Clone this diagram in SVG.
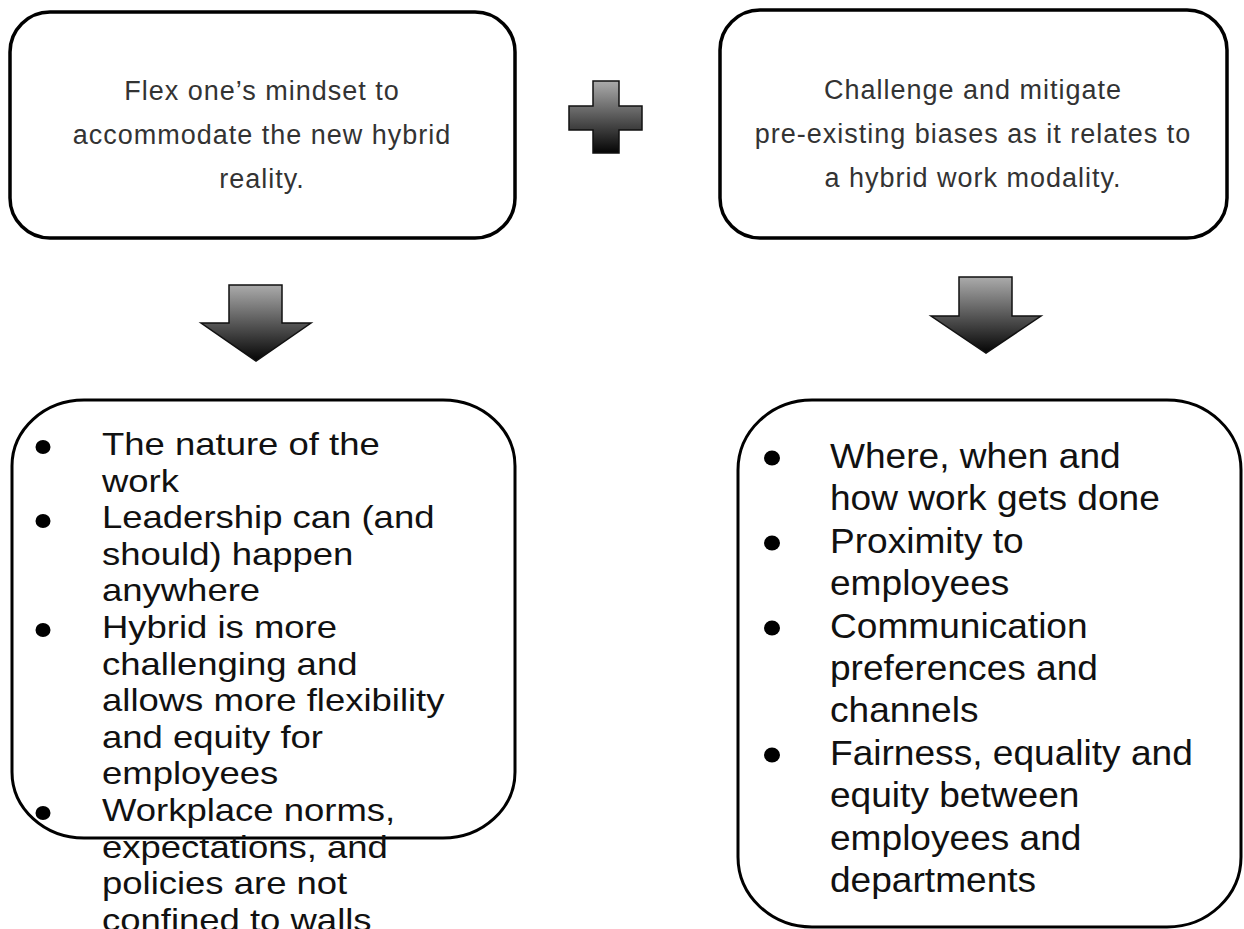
<svg xmlns="http://www.w3.org/2000/svg" width="1244" height="929" viewBox="0 0 1244 929">
  <defs>
    <linearGradient id="g" x1="0" y1="0" x2="0" y2="1">
      <stop offset="0" stop-color="#ababab"/>
      <stop offset="1" stop-color="#050505"/>
    </linearGradient>
    <style>
      .box{fill:#fff;stroke:#000;stroke-width:3.5}
      .box2{fill:#fff;stroke:#000;stroke-width:3}
      .head{font-family:"Liberation Sans",Arial,sans-serif;font-size:27px;letter-spacing:1px;fill:#333;text-anchor:middle}
      .lt{font-family:"Liberation Sans",Arial,sans-serif;font-size:32px;fill:#111}
      .rt{font-family:"Liberation Sans",Arial,sans-serif;font-size:35px;fill:#111}
      .shape{fill:url(#g);stroke:#111;stroke-width:1.5;stroke-linejoin:miter}
      .dot{fill:#000}
    </style>
  </defs>
  <rect width="1244" height="929" fill="#fff"/>

  <g id="box-flex">
    <rect class="box" x="10" y="12" width="505" height="226" rx="40" ry="40"/>
    <text class="head" x="262" y="100">Flex one’s mindset to</text>
    <text class="head" x="262" y="144">accommodate the new hybrid</text>
    <text class="head" x="262" y="188">reality.</text>
  </g>

  <g id="plus">
    <path class="shape" d="M593,81 H619 V106 H642 V130 H619 V153 H593 V130 H569 V106 H593 Z"/>
  </g>

  <g id="box-challenge">
    <rect class="box" x="720" y="10" width="507" height="228" rx="40" ry="40"/>
    <text class="head" x="973" y="99">Challenge and mitigate</text>
    <text class="head" x="973" y="143">pre-existing biases as it relates to</text>
    <text class="head" x="973" y="187">a hybrid work modality.</text>
  </g>

  <g id="connectors">
    <path class="shape" d="M229,285 H282 V323 H311 L256,361 L201,323 H229 Z"/>
    <path class="shape" d="M959,277 H1012 V316 H1041 L986,353 L931,316 H959 Z"/>
  </g>

  <g id="box-left-list">
    <rect class="box2" x="12" y="400" width="503" height="438" rx="72" ry="66"/>
    <ellipse class="dot" cx="43" cy="447" rx="7.5" ry="7"/>
    <ellipse class="dot" cx="43" cy="521" rx="7.5" ry="7"/>
    <ellipse class="dot" cx="43" cy="630" rx="7.5" ry="7"/>
    <ellipse class="dot" cx="43" cy="813" rx="7.5" ry="7"/>
    <g transform="translate(102,0) scale(1.14,1)">
      <text class="lt" x="0" y="455">The nature of the</text>
      <text class="lt" x="0" y="491.6">work</text>
      <text class="lt" x="0" y="528.2">Leadership can (and</text>
      <text class="lt" x="0" y="564.8">should) happen</text>
      <text class="lt" x="0" y="601.4">anywhere</text>
      <text class="lt" x="0" y="638">Hybrid is more</text>
      <text class="lt" x="0" y="674.6">challenging and</text>
      <text class="lt" x="0" y="711.2">allows more flexibility</text>
      <text class="lt" x="0" y="747.8">and equity for</text>
      <text class="lt" x="0" y="784.4">employees</text>
      <text class="lt" x="0" y="821">Workplace norms,</text>
      <text class="lt" x="0" y="857.6">expectations, and</text>
      <text class="lt" x="0" y="894.2">policies are not</text>
      <text class="lt" x="0" y="930.8">confined to walls</text>
    </g>
  </g>

  <g id="box-right-list">
    <rect class="box2" x="738" y="400" width="503" height="527" rx="74" ry="70"/>
    <ellipse class="dot" cx="772" cy="458" rx="8" ry="7.5"/>
    <ellipse class="dot" cx="772" cy="543" rx="8" ry="7.5"/>
    <ellipse class="dot" cx="772" cy="628" rx="8" ry="7.5"/>
    <ellipse class="dot" cx="772" cy="755" rx="8" ry="7.5"/>
    <g transform="translate(830,0) scale(1.06,1)">
      <text class="rt" x="0" y="468">Where, when and</text>
      <text class="rt" x="0" y="510.4">how work gets done</text>
      <text class="rt" x="0" y="552.8">Proximity to</text>
      <text class="rt" x="0" y="595.2">employees</text>
      <text class="rt" x="0" y="637.6">Communication</text>
      <text class="rt" x="0" y="680">preferences and</text>
      <text class="rt" x="0" y="722.4">channels</text>
      <text class="rt" x="0" y="764.8">Fairness, equality and</text>
      <text class="rt" x="0" y="807.2">equity between</text>
      <text class="rt" x="0" y="849.6">employees and</text>
      <text class="rt" x="0" y="892">departments</text>
    </g>
  </g>
</svg>
